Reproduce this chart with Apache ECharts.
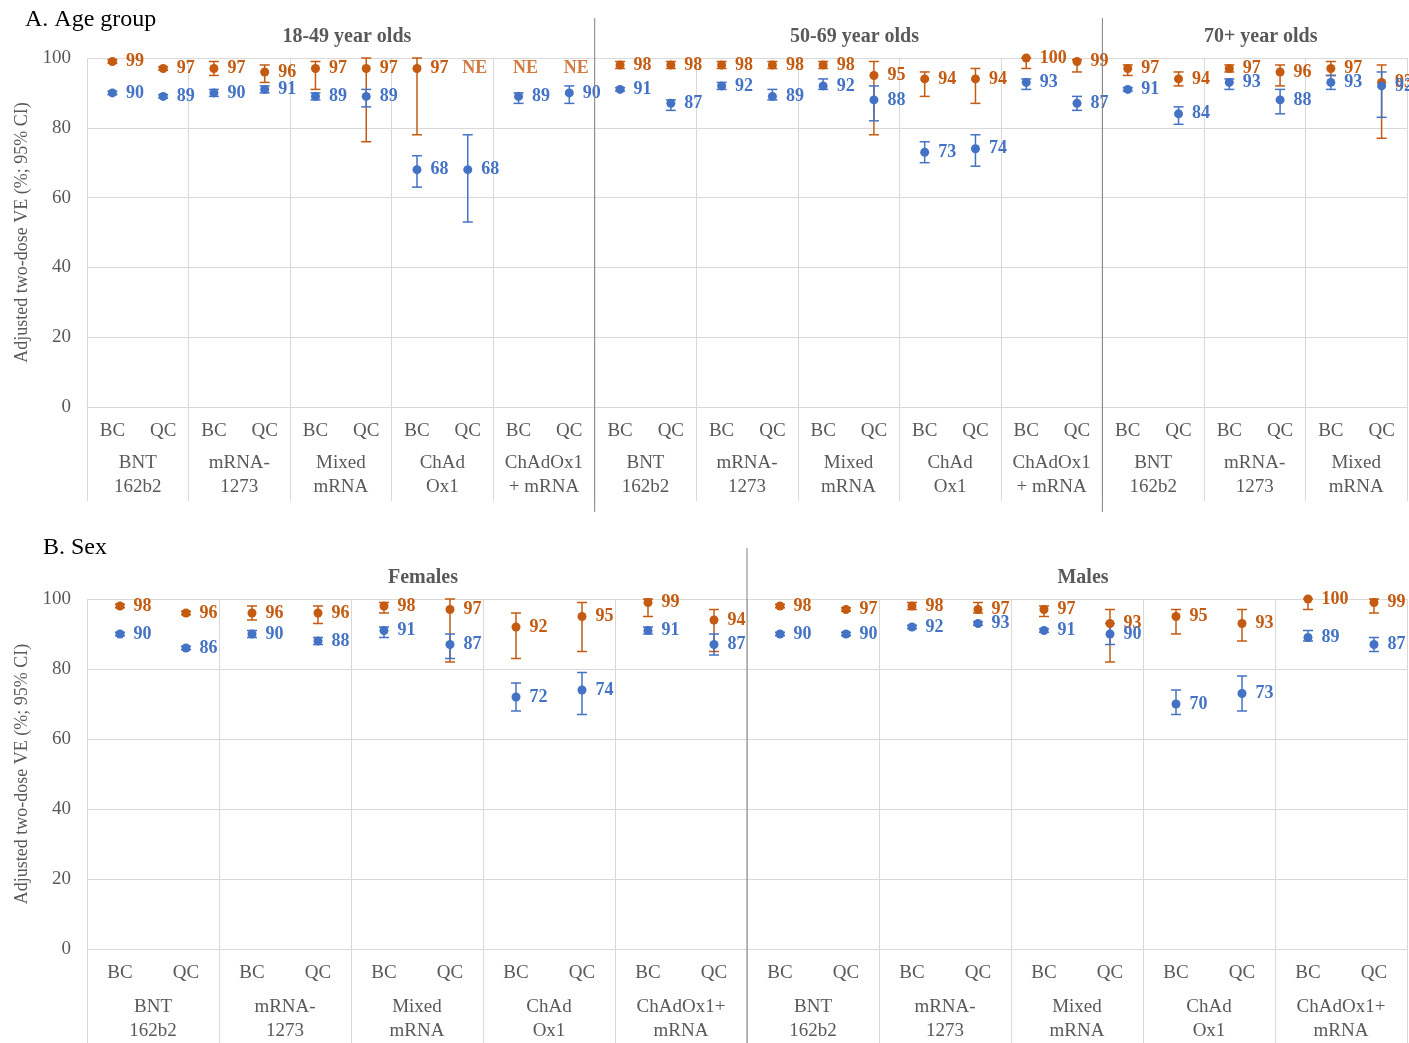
<!DOCTYPE html>
<html>
<head>
<meta charset="utf-8">
<script src="https://cdn.jsdelivr.net/npm/echarts@6/dist/echarts.min.js"></script>
<style>
  html, body { margin: 0; padding: 0; background: #fff; }
  #main { width: 1409px; height: 1043px; }
</style>
</head>
<body>
<div id="main"></div>
<script>
// ---- data: A. Age group (26 BC/QC columns) ----
const topCats = ['BC','QC','BC','QC','BC','QC','BC','QC','BC','QC',
  'BC','QC','BC','QC','BC','QC','BC','QC','BC','QC',
  'BC','QC','BC','QC','BC','QC'];
const topGroups = ['BNT\n162b2','mRNA-\n1273','Mixed\nmRNA','ChAd\nOx1','ChAdOx1\n+ mRNA',
  'BNT\n162b2','mRNA-\n1273','Mixed\nmRNA','ChAd\nOx1','ChAdOx1\n+ mRNA',
  'BNT\n162b2','mRNA-\n1273','Mixed\nmRNA'];
const topSections = ['18-49 year olds','50-69 year olds','70+ year olds'];
const topSectionCols = [10, 10, 6];

const topOrange   = [99,97, 97,96, 97,97, 97,null, null,null, 98,98, 98,98, 98,95, 94,94, 100,99, 97,94, 97,96, 97,93];
const topOrangeLo = [98.5,96.5, 95,93, 91,76, 78,null, null,null, 97,97, 97,97, 97,78, 89,87, 97,96, 95,92, 96,92, 95,77];
const topOrangeHi = [99.5,97.5, 99,98, 99,100, 100,null, null,null, 99,99, 99,99, 99,99, 96,97, 100,99.5, 98,96, 98,98, 99,98];
const topBlue     = [90,89, 90,91, 89,89, 68,68, 89,90, 91,87, 92,89, 92,88, 73,74, 93,87, 91,84, 93,88, 93,92];
const topBlueLo   = [89.5,88.5, 89,90, 88,86, 63,53, 87,87, 90.5,85, 91,88, 91,82, 70,69, 91,85, 90.5,81, 91,84, 91,83];
const topBlueHi   = [90.5,89.5, 91,92, 90,91, 72,78, 90,92, 91.5,88, 93,91, 94,92, 76,78, 94,89, 91.5,86, 94,91, 95,96];
// not estimable columns (orange), label placed at this level
const topNE = [7, 8, 9];
const neLevel = 97;

// ---- data: B. Sex (20 BC/QC columns) ----
const botCats = ['BC','QC','BC','QC','BC','QC','BC','QC','BC','QC',
  'BC','QC','BC','QC','BC','QC','BC','QC','BC','QC'];
const botGroups = ['BNT\n162b2','mRNA-\n1273','Mixed\nmRNA','ChAd\nOx1','ChAdOx1+\nmRNA',
  'BNT\n162b2','mRNA-\n1273','Mixed\nmRNA','ChAd\nOx1','ChAdOx1+\nmRNA'];
const botSections = ['Females','Males'];
const botSectionCols = [10, 10];

const botOrange   = [98,96, 96,96, 98,97, 92,95, 99,94, 98,97, 98,97, 97,93, 95,93, 100,99];
const botOrangeLo = [97.5,95.5, 94,93, 96,82, 83,85, 95,85, 97.5,96.5, 97,96, 95,82, 90,88, 97,96];
const botOrangeHi = [98.5,96.5, 98,98, 99,100, 96,99, 100,97, 98.5,97.5, 99,99, 98,97, 97,97, 100,100];
const botBlue     = [90,86, 90,88, 91,87, 72,74, 91,87, 90,90, 92,93, 91,90, 70,73, 89,87];
const botBlueLo   = [89.5,85.5, 89,87, 89,83, 68,67, 90,84, 89.5,89.5, 91.5,92.5, 90.5,87, 67,68, 88,85];
const botBlueHi   = [90.5,86.5, 91,89, 92,90, 76,79, 92,90, 90.5,90.5, 92.5,93.5, 91.5,93, 74,78, 91,89];

const yTicks = [0, 20, 40, 60, 80, 100];

const ORANGE = '#C55A11';
const BLUE = '#4472C4';
const GRID = '#d9d9d9';
const TXT = '#595959';
const FONT = 'Liberation Serif';

function pairs(arr) {
  const out = [];
  arr.forEach((v, i) => { if (v != null) out.push([i, v]); });
  return out;
}

function ciData(lo, hi) {
  const out = [];
  lo.forEach((l, i) => { if (l != null) out.push([i, l, hi[i]]); });
  return out;
}

// 误差线
function errorSeries(axis, lo, hi, color) {
  return {
    type: 'custom',
    xAxisIndex: axis * 2,
    yAxisIndex: axis,
    data: ciData(lo, hi),
    encode: { x: 0, y: [1, 2] },
    z: 3,
    silent: true,
    renderItem: function (params, api) {
      const a = api.coord([api.value(0), api.value(1)]);
      const b = api.coord([api.value(0), api.value(2)]);
      const w = 5;
      const st = { stroke: color, lineWidth: 1.5 };
      return {
        type: 'group',
        children: [
          { type: 'line', shape: { x1: a[0], y1: a[1], x2: b[0], y2: b[1] }, style: st },
          { type: 'line', shape: { x1: a[0] - w, y1: a[1], x2: a[0] + w, y2: a[1] }, style: st },
          { type: 'line', shape: { x1: b[0] - w, y1: b[1], x2: b[0] + w, y2: b[1] }, style: st }
        ]
      };
    }
  };
}

function pointSeries(axis, est, color) {
  return {
    type: 'scatter',
    xAxisIndex: axis * 2,
    yAxisIndex: axis,
    data: pairs(est),
    symbolSize: 9,
    z: 4,
    itemStyle: { color: color, opacity: 1 },
    label: {
      show: true,
      position: 'right',
      distance: 9,
      formatter: p => p.value[1],
      color: color,
      fontWeight: 'bold',
      fontSize: 18,
      fontFamily: FONT
    }
  };
}

function xAxes(grid, cats, groups, groupMargin) {
  return [
    {
      type: 'category',
      gridIndex: grid,
      data: cats,
      position: 'bottom',
      axisLine: { show: true, lineStyle: { color: GRID, width: 1 } },
      axisTick: { show: false },
      splitLine: { show: false },
      axisLabel: { interval: 0, margin: 15, fontSize: 19, color: TXT, fontFamily: FONT }
    },
    {
      type: 'category',
      gridIndex: grid,
      data: groups,
      position: 'bottom',
      axisLine: { show: false },
      axisTick: { show: true, interval: 0, length: 94, lineStyle: { color: GRID } },
      splitLine: { show: true, interval: 0, lineStyle: { color: GRID } },
      axisLabel: { interval: 0, margin: groupMargin, fontSize: 19, lineHeight: 24, color: TXT, fontFamily: FONT }
    }
  ];
}

function yAxis(grid) {
  return {
    type: 'value',
    gridIndex: grid,
    min: yTicks[0],
    max: yTicks[yTicks.length - 1],
    interval: 20,
    name: 'Adjusted two-dose VE (%; 95% CI)',
    nameLocation: 'middle',
    nameGap: 54,
    nameRotate: 90,
    nameTextStyle: { fontSize: 18, color: TXT, fontFamily: FONT },
    axisLine: { show: false },
    axisTick: { show: false },
    splitLine: { show: true, lineStyle: { color: GRID } },
    axisLabel: { fontSize: 19, color: TXT, fontFamily: FONT, margin: 16 }
  };
}

const option = {
  backgroundColor: '#fff',
  animation: false,
  textStyle: { fontFamily: FONT },
  title: [
    { text: 'A. Age group', left: 20, top: 3, textStyle: { fontSize: 24, fontWeight: 'normal', color: '#000', fontFamily: FONT } },
    { text: 'B. Sex', left: 38, top: 531, textStyle: { fontSize: 24, fontWeight: 'normal', color: '#000', fontFamily: FONT } }
  ],
  grid: [
    { left: 87, top: 58, width: 1320, height: 349, outerBoundsMode: 'none', containLabel: false },
    { left: 87, top: 599, width: 1320, height: 350, outerBoundsMode: 'none', containLabel: false }
  ],
  xAxis: [].concat(xAxes(0, topCats, topGroups, 44), xAxes(1, botCats, botGroups, 46)),
  yAxis: [yAxis(0), yAxis(1)],
  series: [
    errorSeries(0, topOrangeLo, topOrangeHi, ORANGE),
    pointSeries(0, topOrange, ORANGE),
    errorSeries(0, topBlueLo, topBlueHi, BLUE),
    pointSeries(0, topBlue, BLUE),
    {
      type: 'scatter',
      xAxisIndex: 0,
      yAxisIndex: 0,
      data: topNE.map(i => [i, neLevel]),
      symbolSize: 0,
      label: {
        show: true,
        position: 'inside',
        offset: [7, 0],
        formatter: 'NE',
        color: ORANGE,
        fontWeight: 'bold',
        fontSize: 18,
        fontFamily: FONT
      }
    },
    errorSeries(1, botOrangeLo, botOrangeHi, ORANGE),
    pointSeries(1, botOrange, ORANGE),
    errorSeries(1, botBlueLo, botBlueHi, BLUE),
    pointSeries(1, botBlue, BLUE)
  ]
};

const chart = echarts.init(document.getElementById('main'));
chart.setOption(option);

// section headers and dark separators, placed from the category scale
const headerShift = 6;
function sectionGraphics(axisIndex, sections, cols, headerY, lineTop, lineBottom) {
  const px = i => chart.convertToPixel({ xAxisIndex: axisIndex }, i);
  const half = (px(1) - px(0)) / 2;
  const els = [];
  let start = 0;
  sections.forEach((name, k) => {
    const end = start + cols[k] - 1;
    const x0 = px(start) - half;
    const x1 = px(end) + half;
    els.push({
      type: 'text',
      x: (x0 + x1) / 2 + headerShift,
      y: headerY,
      style: {
        text: name, fill: TXT, fontSize: 20, fontWeight: 'bold', fontFamily: FONT,
        align: 'center', verticalAlign: 'middle'
      }
    });
    if (k < sections.length - 1) {
      els.push({
        type: 'line',
        shape: { x1: x1, y1: lineTop, x2: x1, y2: lineBottom },
        style: { stroke: '#7f7f7f', lineWidth: 1 },
        z: 10
      });
    }
    start = end + 1;
  });
  return els;
}

chart.setOption({
  graphic: [].concat(
    sectionGraphics(0, topSections, topSectionCols, 37, 18, 512),
    sectionGraphics(2, botSections, botSectionCols, 578, 548, 1043)
  )
});
</script>
</body>
</html>
